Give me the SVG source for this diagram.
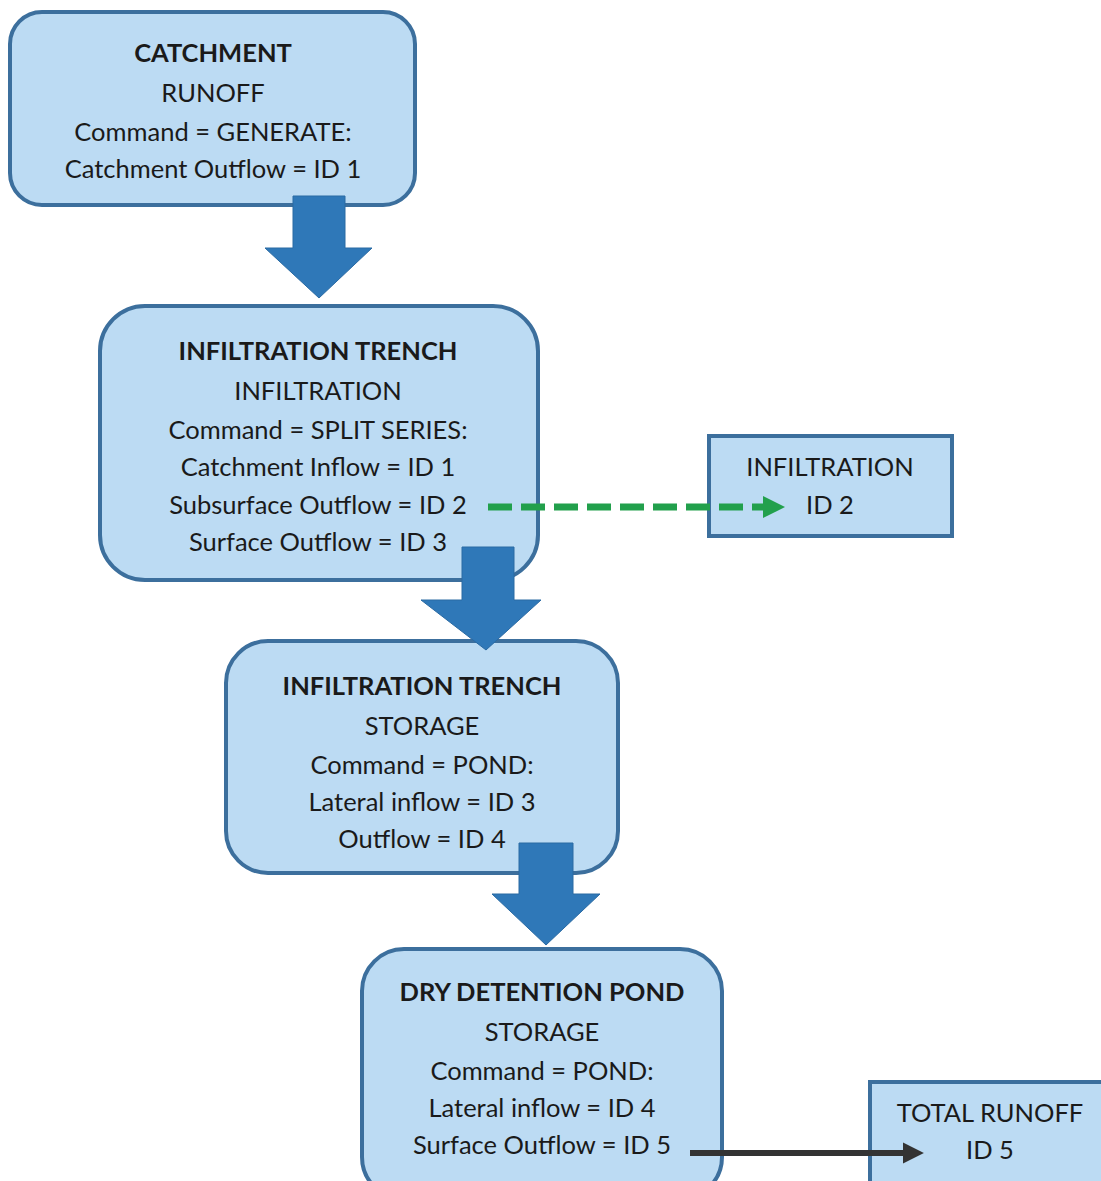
<svg xmlns="http://www.w3.org/2000/svg" width="1101" height="1181" viewBox="0 0 1101 1181">
<defs>
<style>
.node{fill:#bcdbf3;stroke:#3c6f9d;stroke-width:4}
.t{font-family:Lato,"Liberation Sans",sans-serif;font-size:25.5px;fill:#1a1a1a;text-anchor:middle}
.b{font-weight:bold}
.blk{fill:#2f78b8;stroke:#2a6aa3;stroke-width:1}
</style>
<marker id="gh" viewBox="0 0 10 10" refX="1" refY="5" markerWidth="3.2" markerHeight="3.4" orient="auto" markerUnits="strokeWidth"><path d="M0,0 L10,5 L0,10 Z" fill="#22a04c"/></marker>
<marker id="bh" viewBox="0 0 10 10" refX="1" refY="5" markerWidth="3.5" markerHeight="4" orient="auto" markerUnits="strokeWidth"><path d="M0,0 L10,5 L0,10 Z" fill="#333"/></marker>
</defs>
<rect width="1101" height="1181" fill="#fff"/>
<g id="catchment">
<rect class="node" x="10" y="12" width="405" height="193" rx="32"/>
<text class="t b" x="213" y="62">CATCHMENT</text>
<text class="t" x="213" y="102">RUNOFF</text>
<text class="t" x="213" y="141">Command = GENERATE:</text>
<text class="t" x="213" y="178">Catchment Outflow = ID 1</text>
</g>
<g id="trench-infiltration">
<rect class="node" x="100" y="306" width="438" height="274" rx="45"/>
<text class="t b" x="318" y="360">INFILTRATION TRENCH</text>
<text class="t" x="318" y="400">INFILTRATION</text>
<text class="t" x="318" y="439">Command = SPLIT SERIES:</text>
<text class="t" x="318" y="476">Catchment Inflow = ID 1</text>
<text class="t" x="318" y="514">Subsurface Outflow = ID 2</text>
<text class="t" x="318" y="551">Surface Outflow = ID 3</text>
</g>
<g id="infiltration">
<rect class="node" x="709" y="436" width="243" height="100" rx="0"/>
<text class="t" x="830" y="476">INFILTRATION</text>
<text class="t" x="830" y="514">ID 2</text>
</g>
<g id="trench-storage">
<rect class="node" x="226" y="641" width="392" height="232" rx="42"/>
<text class="t b" x="422" y="695">INFILTRATION TRENCH</text>
<text class="t" x="422" y="735">STORAGE</text>
<text class="t" x="422" y="774">Command = POND:</text>
<text class="t" x="422" y="811">Lateral inflow = ID 3</text>
<text class="t" x="422" y="848">Outflow = ID 4</text>
</g>
<g id="dry-pond">
<rect class="node" x="362" y="949" width="360" height="250" rx="42"/>
<text class="t b" x="542" y="1001">DRY DETENTION POND</text>
<text class="t" x="542" y="1041">STORAGE</text>
<text class="t" x="542" y="1080">Command = POND:</text>
<text class="t" x="542" y="1117">Lateral inflow = ID 4</text>
<text class="t" x="542" y="1154">Surface Outflow = ID 5</text>
</g>
<g id="total-runoff">
<rect class="node" x="870" y="1082" width="245" height="120" rx="0"/>
<text class="t" x="990" y="1122">TOTAL RUNOFF</text>
<text class="t" x="990" y="1159">ID 5</text>
</g>
<g id="connectors">
<path class="blk" d="M293,196 H345 V248 H372 L319,298 L265,248 H293 Z"/>
<path class="blk" d="M462,547 H514 V600 H541 L486,650 L421,600 H462 Z"/>
<path class="blk" d="M519,843 H573 V894 H600 L546,945 L492,894 H519 Z"/>
<line x1="488" y1="507" x2="765" y2="507" stroke="#22a04c" stroke-width="7" stroke-dasharray="24,9" marker-end="url(#gh)"/>
<line x1="690" y1="1153" x2="905" y2="1153" stroke="#333" stroke-width="6" marker-end="url(#bh)"/>
</g>
</svg>
